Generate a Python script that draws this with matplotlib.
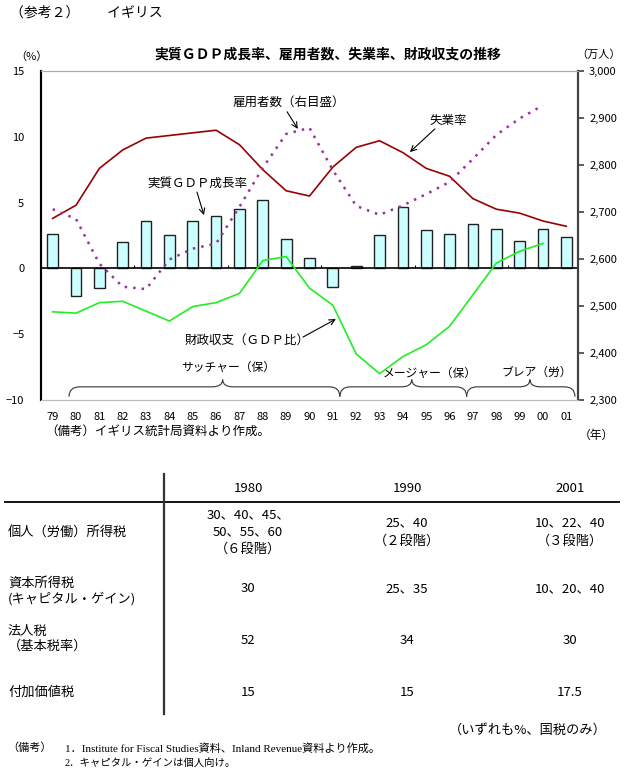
"""イギリス: 実質GDP成長率・雇用者数・失業率・財政収支の推移と税率表."""

import numpy as np
import matplotlib
matplotlib.use("Agg")
import matplotlib.pyplot as plt
from matplotlib.path import Path
from matplotlib.patches import PathPatch
from matplotlib.lines import Line2D

plt.rcParams["font.family"] = ["Noto Sans CJK JP", "DejaVu Sans"]
SERIF = ["Liberation Serif", "Noto Sans CJK JP"]

W, H = 637, 779

# --- データ (グラフ) ---
years = ["79", "80", "81", "82", "83", "84", "85", "86", "87", "88", "89", "90",
         "91", "92", "93", "94", "95", "96", "97", "98", "99", "00", "01"]
gdp_growth = [2.6, -2.1, -1.5, 2.0, 3.6, 2.5, 3.6, 3.95, 4.5, 5.2, 2.2, 0.8,
              -1.4, 0.2, 2.5, 4.7, 2.9, 2.6, 3.4, 3.0, 2.1, 3.0, 2.4]
unemployment = [3.8, 4.8, 7.6, 9.0, 9.9, 10.1, 10.3, 10.5, 9.4, 7.5, 5.9, 5.5,
                7.7, 9.2, 9.7, 8.8, 7.6, 7.0, 5.3, 4.5, 4.2, 3.6, 3.2]
fiscal_balance = [-3.3, -3.4, -2.6, -2.5, -3.25, -4.0, -2.9, -2.6, -1.9, 0.6, 0.9, -1.5,
                  -2.8, -6.5, -8.0, -6.7, -5.8, -4.4, -2.0, 0.4, 1.3, 1.9, np.nan]
employees = [2706, 2685, 2590, 2541, 2536, 2599, 2622, 2633, 2711, 2794, 2866, 2879,
             2789, 2713, 2694, 2714, 2738, 2764, 2813, 2864, 2899, 2927, np.nan]

# --- データ (税率表) ---
table_years = ["1980", "1990", "2001"]
tax_items = ["個人（労働）所得税", "資本所得税\n(キャピタル・ゲイン)", "法人税\n（基本税率）", "付加価値税"]
rates_1980 = ["30、40、45、\n50、55、60\n（６段階）", "30", "52", "15"]
rates_1990 = ["25、40\n（２段階）", "25、35", "34", "15"]
rates_2001 = ["10、22、40\n（３段階）", "10、20、40", "30", "17.5"]


def fx(x):
    return x / W


def fy(y):
    return 1 - y / H


def brace(ax, x0, x1, xm, y_line=-9.0, y_end=-9.75, y_tip=-8.45, d=0.45):
    verts = [(x0, y_end), (x0, y_line), (x0 + d, y_line),
             (xm - d, y_line),
             (xm, y_line), (xm, y_tip),
             (xm, y_line), (xm + d, y_line),
             (x1 - d, y_line),
             (x1, y_line), (x1, y_end)]
    codes = [Path.MOVETO, Path.CURVE3, Path.CURVE3,
             Path.LINETO,
             Path.CURVE3, Path.CURVE3,
             Path.CURVE3, Path.CURVE3,
             Path.LINETO,
             Path.CURVE3, Path.CURVE3]
    ax.add_patch(PathPatch(Path(verts, codes), fill=False, lw=0.8,
                           edgecolor="#333333", clip_on=False))


fig = plt.figure(figsize=(W / 100, H / 100), dpi=100)
ax = fig.add_axes([fx(41), fy(400), fx(578) - fx(41), fy(71) - fy(400)])
ax2 = ax.twinx()

x = np.arange(len(years))
ax.bar(x, gdp_growth, width=0.46, color="#ccffff", edgecolor="#222222", lw=1.0, zorder=2)
ax.axhline(0, color="black", lw=1.2, zorder=3)
ax.vlines([3.5, 7.5, 11.5, 15.5, 19.5], 0, 0.25, color="black", lw=0.8, zorder=3)
ax.plot(x, unemployment, color="#990000", lw=1.2, zorder=4)
ax.plot(x, fiscal_balance, color="#22ee22", lw=1.2, zorder=4)
ax2.plot(x, employees, color="#993399", lw=1.8, ls=(0, (1, 2.4)), zorder=4)

ax.set_xlim(-0.5, len(years) - 0.5)
ax.set_ylim(-10, 15)
ax.set_yticks([-10, -5, 0, 5, 10, 15])
ax.set_xticks(x)
ax.set_xticklabels(years)
ax.tick_params(axis="x", length=0, pad=9, labelsize=8)
ax.tick_params(axis="y", length=0, pad=12, labelsize=8)

ax2.set_ylim(2300, 3000)
ax2.set_yticks(np.arange(2300, 3001, 100))
ax2.set_yticklabels([f"{v:,}" for v in range(2300, 3001, 100)])
ax2.tick_params(axis="y", length=4, width=1.2, pad=4, labelsize=8, color="#404040")

for a in (ax, ax2):
    a.spines["top"].set_color("#aaaaaa")
    a.spines["bottom"].set_color("#bbbbbb")
    a.spines["left"].set_color("black")
    a.spines["left"].set_linewidth(1.5)
    a.spines["right"].set_color("#404040")
    a.spines["right"].set_linewidth(1.5)
ax.set_zorder(ax2.get_zorder() - 1)
ax.patch.set_visible(False)

# 注記と矢印
arrow = dict(arrowstyle="->", lw=0.8, color="black", shrinkA=0, shrinkB=0)
ax.text(7.72, 12.64, "雇用者数（右目盛）", fontsize=9, va="center", ha="left")
ax.annotate("", xy=(10.5, 10.6), xytext=(10.04, 11.9), arrowprops=arrow)
ax.text(16.93, 11.27, "失業率", fontsize=9, va="center", ha="center")
ax.annotate("", xy=(15.3, 8.84), xytext=(16.37, 10.6), arrowprops=arrow)
ax.text(6.2, 6.48, "実質ＧＤＰ成長率", fontsize=9, va="center", ha="center")
ax.annotate("", xy=(6.48, 4.05), xytext=(6.18, 5.8), arrowprops=arrow)
ax.text(8.34, -5.45, "財政収支（ＧＤＰ比）", fontsize=9, va="center", ha="center")
ax.annotate("", xy=(12.13, -3.85), xytext=(10.72, -5.22), arrowprops=arrow)

ax.text(7.53, -7.5, "サッチャー（保）", fontsize=8.5, va="center", ha="center")
ax.text(16.16, -7.95, "メージャー（保）", fontsize=8.5, va="center", ha="center")
ax.text(20.72, -7.88, "ブレア（労）", fontsize=8.5, va="center", ha="center")
brace(ax, 0.7, 12.3, 7.28)
brace(ax, 12.3, 17.73, 15.38)
brace(ax, 17.73, 22.37, 20.44)

# グラフ周りのテキスト
fig.text(fx(10), fy(13), "（参考２）　　イギリス", fontsize=10, va="center", ha="left")
fig.text(fx(328), fy(54), "実質ＧＤＰ成長率、雇用者数、失業率、財政収支の推移",
         fontsize=10, fontweight="bold", va="center", ha="center")
fig.text(fx(31), fy(57), "（%）", fontsize=8, va="center", ha="center")
fig.text(fx(599), fy(55), "（万人）", fontsize=8, va="center", ha="center")
fig.text(fx(45), fy(432), "（備考）イギリス統計局資料より作成。", fontsize=9,
         va="center", ha="left", family=SERIF)
fig.text(fx(596), fy(435), "（年）", fontsize=8.5, va="center", ha="center")

# 税率表
fig.add_artist(Line2D([fx(5), fx(619)], [fy(502), fy(502)], color="black", lw=1.3))
fig.add_artist(Line2D([fx(164), fx(164)], [fy(474), fy(714)], color="#333333", lw=1.6))
col_x = [248, 407, 570]
row_y = [532, 589, 641, 692]
label_y = [533, 591, 639, 692]
for cx, yr in zip(col_x, table_years):
    fig.text(fx(cx), fy(488), yr, fontsize=9.5, va="center", ha="center")
for ly, item in zip(label_y, tax_items):
    fig.text(fx(8), fy(ly), item, fontsize=9.5, va="center", ha="left", linespacing=1.2)
for cx, col in zip(col_x, [rates_1980, rates_1990, rates_2001]):
    for ry, val in zip(row_y, col):
        fig.text(fx(cx), fy(ry), val, fontsize=9.5, va="center", ha="center",
                 linespacing=1.45)

fig.text(fx(607), fy(730), "（いずれも%、国税のみ）", fontsize=9.5, va="center", ha="right")
fig.text(fx(7), fy(748), "（備考）", fontsize=8, va="center", ha="left", family=SERIF)
fig.text(fx(65), fy(748), "1．Institute for Fiscal Studies資料、Inland Revenue資料より作成。",
         fontsize=8, va="center", ha="left", family=SERIF)
fig.text(fx(65), fy(763), "2．キャピタル・ゲインは個人向け。", fontsize=7.5,
         va="center", ha="left", family=SERIF)

fig.savefig("out.png", dpi=100)
